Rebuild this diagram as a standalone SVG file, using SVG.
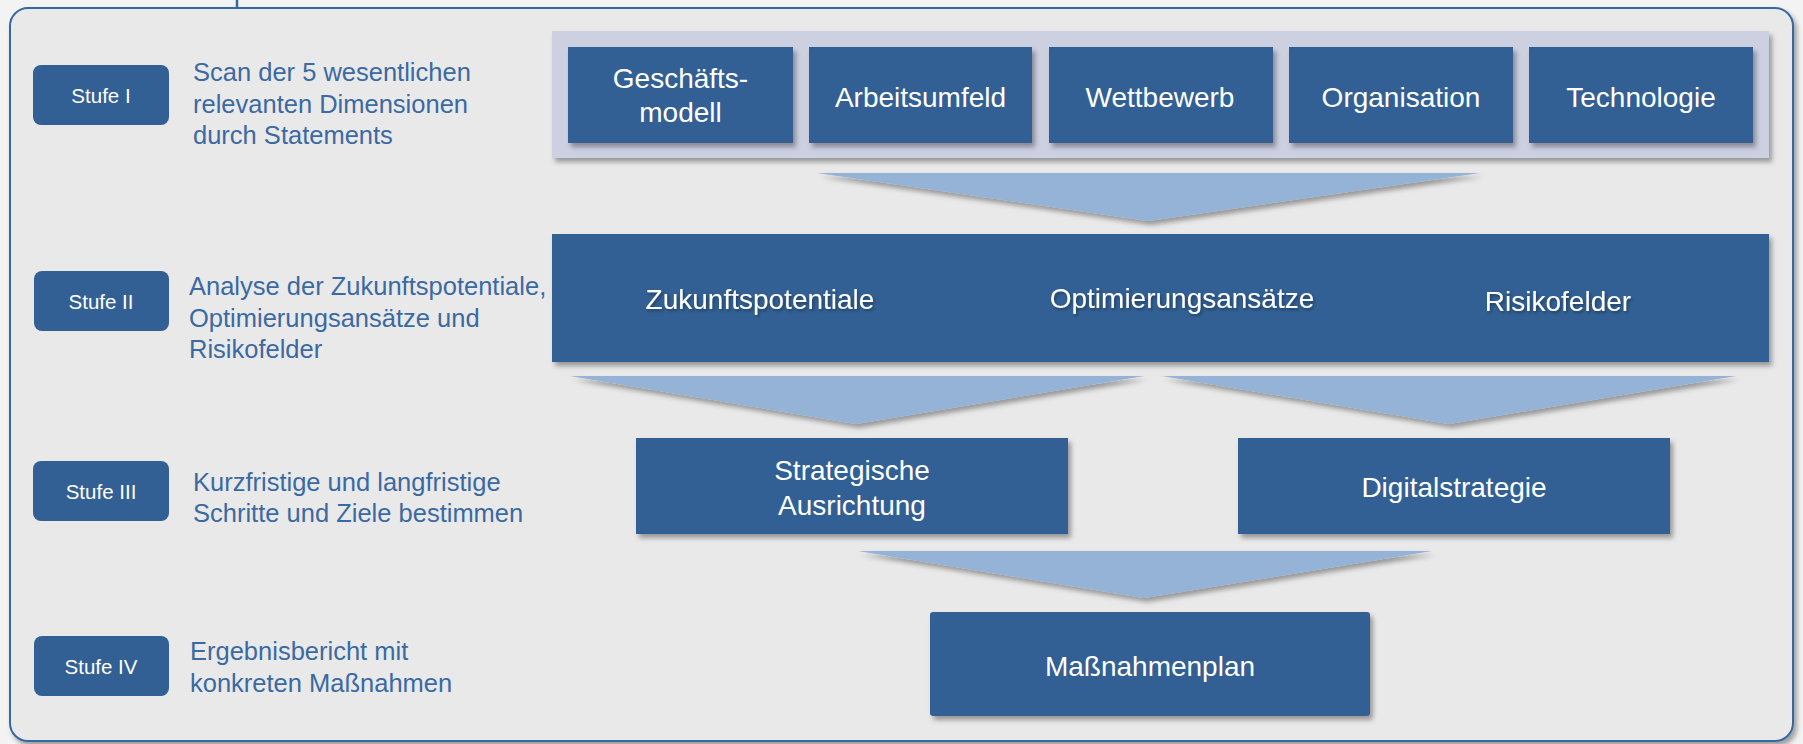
<svg xmlns="http://www.w3.org/2000/svg" width="1803" height="744" viewBox="0 0 1803 744">
<style>
.box{fill:#336094}
.stufe{fill:#336094}
.arrow{fill:#95b3d7}
.lbl{font-family:"Liberation Sans",Arial,sans-serif;fill:#ffffff;text-anchor:middle}
.desc{font-family:"Liberation Sans",Arial,sans-serif;fill:#3b69a2;font-size:25.5px}
.st{font-size:20.5px}
.big{font-size:28px}
</style>
<defs>
<filter id="sh" x="-10%" y="-20%" width="125%" height="150%">
<feDropShadow dx="3" dy="4" stdDeviation="2.5" flood-color="#000" flood-opacity="0.35"/>
</filter>
<filter id="tsh" x="-10%" y="-30%" width="120%" height="170%">
<feDropShadow dx="1.5" dy="2" stdDeviation="1.5" flood-color="#000" flood-opacity="0.35"/>
</filter>
</defs>
<rect x="0" y="0" width="1803" height="744" fill="#f3f3f3"/>
<line x1="237" y1="0" x2="237" y2="9" stroke="#3868a0" stroke-width="2.5"/>
<rect x="10" y="8" width="1783" height="733" rx="18" fill="#e9e9e9" stroke="#3868a0" stroke-width="2" filter="url(#sh)"/>

<g id="stufe1">
<rect class="stufe" x="33" y="65" width="136" height="60" rx="8"/>
<text class="lbl st" x="101" y="103">Stufe I</text>
<text class="desc" x="193" y="81">Scan der 5 wesentlichen</text>
<text class="desc" x="193" y="113">relevanten Dimensionen</text>
<text class="desc" x="193" y="144">durch Statements</text>
</g>
<g id="stufe2">
<rect class="stufe" x="34" y="271" width="135" height="60" rx="8"/>
<text class="lbl st" x="101" y="309">Stufe II</text>
<text class="desc" x="189" y="295">Analyse der Zukunftspotentiale,</text>
<text class="desc" x="189" y="327">Optimierungsansätze und</text>
<text class="desc" x="189" y="358">Risikofelder</text>
</g>
<g id="stufe3">
<rect class="stufe" x="33" y="461" width="136" height="60" rx="8"/>
<text class="lbl st" x="101" y="499">Stufe III</text>
<text class="desc" x="193" y="491">Kurzfristige und langfristige</text>
<text class="desc" x="193" y="522">Schritte und Ziele bestimmen</text>
</g>
<g id="stufe4">
<rect class="stufe" x="34" y="636" width="135" height="60" rx="8"/>
<text class="lbl st" x="101" y="674">Stufe IV</text>
<text class="desc" x="190" y="660">Ergebnisbericht mit</text>
<text class="desc" x="190" y="692">konkreten Maßnahmen</text>
</g>

<g id="dimensionen">
<rect x="552" y="31" width="1217" height="127" fill="#cdd0e1" filter="url(#sh)"/>
<g id="geschaeftsmodell">
<rect class="box" x="568" y="47" width="225" height="96" filter="url(#sh)"/>
<text class="lbl big" x="680.5" y="88">Geschäfts-</text>
<text class="lbl big" x="680.5" y="122">modell</text>
</g>
<g id="arbeitsumfeld">
<rect class="box" x="809" y="47" width="223" height="96" filter="url(#sh)"/>
<text class="lbl big" x="920.5" y="107">Arbeitsumfeld</text>
</g>
<g id="wettbewerb">
<rect class="box" x="1049" y="47" width="224" height="96" filter="url(#sh)"/>
<text class="lbl big" x="1160" y="107">Wettbewerb</text>
</g>
<g id="organisation">
<rect class="box" x="1289" y="47" width="224" height="96" filter="url(#sh)"/>
<text class="lbl big" x="1401" y="107">Organisation</text>
</g>
<g id="technologie">
<rect class="box" x="1529" y="47" width="224" height="96" filter="url(#sh)"/>
<text class="lbl big" x="1641" y="107">Technologie</text>
</g>
</g>

<g id="analyse">
<rect class="box" x="552" y="234" width="1217" height="128" filter="url(#sh)"/>
<g filter="url(#tsh)">
<text class="lbl big" x="760" y="309">Zukunftspotentiale</text>
<text class="lbl big" x="1182" y="308">Optimierungsansätze</text>
<text class="lbl big" x="1558" y="311">Risikofelder</text>
</g>
</g>

<g id="strategische-ausrichtung">
<rect class="box" x="636" y="438" width="432" height="96" filter="url(#sh)"/>
<text class="lbl big" x="852" y="480">Strategische</text>
<text class="lbl big" x="852" y="515">Ausrichtung</text>
</g>
<g id="digitalstrategie">
<rect class="box" x="1238" y="438" width="432" height="96" filter="url(#sh)"/>
<text class="lbl big" x="1454" y="497">Digitalstrategie</text>
</g>
<g id="massnahmenplan">
<rect class="box" x="930" y="612" width="440" height="104" rx="3" filter="url(#sh)"/>
<text class="lbl big" x="1150" y="676">Maßnahmenplan</text>
</g>

<g id="connectors">
<polygon class="arrow" points="817,173 1480,173 1148,221" filter="url(#sh)"/>
<polygon class="arrow" points="570,376 1144,376 856,424" filter="url(#sh)"/>
<polygon class="arrow" points="1162,376 1736,376 1449,424" filter="url(#sh)"/>
<polygon class="arrow" points="858,551 1432,551 1144,598" filter="url(#sh)"/>
</g>
</svg>
